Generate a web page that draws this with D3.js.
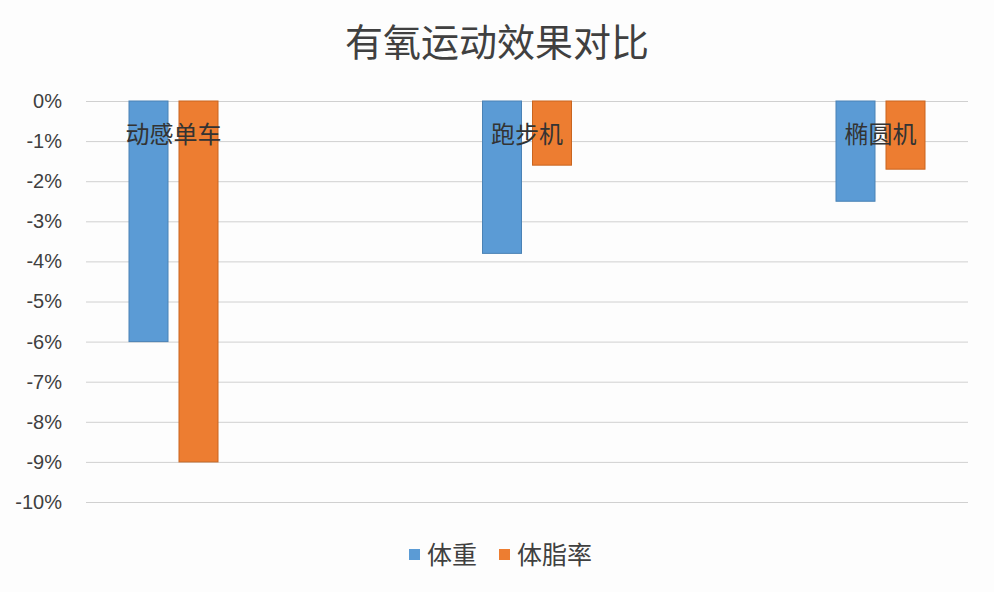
<!DOCTYPE html>
<html>
<head>
<meta charset="utf-8">
<script src="https://cdn.jsdelivr.net/npm/d3@7"></script>
<style>
  body { margin: 0; background: #fdfdfd; }
  svg { display: block; font-family: "Noto Sans CJK SC", "Noto Sans", sans-serif; }
</style>
</head>
<body>
<svg id="chart" width="994" height="592"></svg>
<script>
// data
let categories = ["动感单车", "跑步机", "椭圆机"];
let seriesNames = ["体重", "体脂率"];
let weightValues = [-6, -3.8, -2.5];
let fatValues = [-9, -1.6, -1.7];
let yTicks = [0, -1, -2, -3, -4, -5, -6, -7, -8, -9, -10];
let colors = ["#5b9bd5", "#ed7d31"];
let strokes = ["#4a82b5", "#c9651f"];

let svg = d3.select("#chart");

// scales
let y = d3.scaleLinear().domain([0, -10]).range([101, 502]);
let xCenter = d3.scalePoint().domain(categories).range([173.5, 880.5]);
let xInner = d3.scaleBand().domain(seriesNames).range([-44.5, 44.5]).paddingInner(0.22);

// title
svg.append("text")
    .attr("x", 497)
    .attr("y", 56)
    .attr("text-anchor", "middle")
    .attr("font-size", 38)
    .attr("fill", "#404040")
    .text("有氧运动效果对比");

// grid lines + y labels
let yAxis = d3.axisLeft(y)
    .tickValues(yTicks)
    .tickSize(-(968 - 86))
    .tickFormat(d => d + "%");
let gAxis = svg.append("g")
    .attr("transform", "translate(86,0)")
    .call(yAxis);
gAxis.select(".domain").remove();
gAxis.selectAll(".tick line").attr("stroke", "#d0d0d0").attr("stroke-width", 1);
gAxis.selectAll(".tick text")
    .attr("x", -24)
    .attr("font-size", 20)
    .attr("fill", "#404040")
    .attr("font-family", "\"Liberation Sans\", Arial, sans-serif");

// bars
let allSeries = [weightValues, fatValues];
allSeries.forEach((values, s) => {
    svg.append("g")
        .selectAll("rect")
        .data(values)
        .join("rect")
        .attr("x", (d, i) => xCenter(categories[i]) + xInner(seriesNames[s]))
        .attr("y", y(0))
        .attr("width", xInner.bandwidth())
        .attr("height", d => y(d) - y(0))
        .attr("fill", colors[s])
        .attr("stroke", strokes[s])
        .attr("stroke-width", 1);
});

// category labels (drawn over bars, near the 0 axis)
svg.append("g")
    .selectAll("text")
    .data(categories)
    .join("text")
    .attr("x", d => xCenter(d))
    .attr("y", 143)
    .attr("text-anchor", "middle")
    .attr("font-size", 24)
    .attr("fill", "#333")
    .text(d => d);

// legend
let legendX = [409, 499];
let legend = svg.append("g");
seriesNames.forEach((name, s) => {
    legend.append("rect")
        .attr("x", legendX[s])
        .attr("y", 549)
        .attr("width", 11)
        .attr("height", 11)
        .attr("fill", colors[s]);
    legend.append("text")
        .attr("x", legendX[s] + 18)
        .attr("y", 564)
        .attr("font-size", 25)
        .attr("fill", "#404040")
        .text(name);
});
</script>
</body>
</html>
